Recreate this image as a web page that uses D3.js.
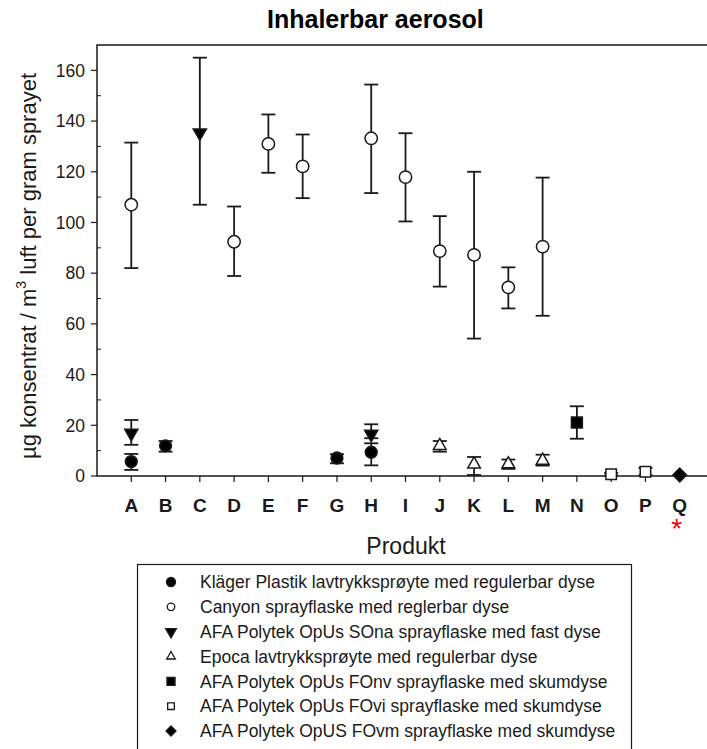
<!DOCTYPE html>
<html>
<head>
<meta charset="utf-8">
<script src="https://cdn.jsdelivr.net/npm/d3@7"></script>
<style>
  body { margin: 0; background: #fff; }
  svg { display: block; font-family: Arial, "Liberation Sans", sans-serif; }
</style>
</head>
<body>
<svg id="chart" width="707" height="749"></svg>
<script>
'use strict';

// products on the x axis
const products = ['A','B','C','D','E','F','G','H','I','J','K','L','M','N','O','P','Q'];
const yTicks = [0, 20, 40, 60, 80, 100, 120, 140, 160];

// each series: product, mean, lower error, upper error
const klagerCats = ['A','B','G','H'];
const klagerVals = [5.7, 11.9, 7.1, 9.4];
const klagerLo = [2.4, 9.6, 5.0, 4.2];
const klagerHi = [8.7, 13.8, 8.6, 12.9];

const canyonCats = ['A','D','E','F','H','I','J','K','L','M'];
const canyonVals = [107, 92.4, 131, 122.1, 133.2, 117.9, 88.7, 87.2, 74.4, 90.5];
const canyonLo = [82, 78.9, 119.6, 109.6, 111.6, 100.4, 74.7, 54.2, 66.1, 63.2];
const canyonHi = [131.5, 106.3, 142.6, 134.7, 154.4, 135.2, 102.5, 120, 82.3, 117.7];

const sonaCats = ['A','C','H'];
const sonaVals = [16.9, 135.4, 16.5];
const sonaLo = [12.3, 107, 14.9];
const sonaHi = [22.1, 165, 20.4];

const epocaCats = ['J','K','L','M'];
const epocaVals = [11.9, 4.6, 4.7, 6.1];
const epocaLo = [9.6, 0.4, 2.8, 4.1];
const epocaHi = [13.8, 7.5, 6.5, 8.4];

const fonvCats = ['N'];
const fonvVals = [21.1];
const fonvLo = [14.7];
const fonvHi = [27.5];

const foviCats = ['O','P'];
const foviVals = [0.7, 1.7];
const foviLo = [0.2, 0.3];
const foviHi = [1.2, 3.2];

const fovmCats = ['Q'];
const fovmVals = [0.4];
const fovmLo = [0.4];
const fovmHi = [0.4];

const legendLabels = [
  'Kläger Plastik lavtrykksprøyte med regulerbar dyse',
  'Canyon sprayflaske med reglerbar dyse',
  'AFA Polytek OpUs SOna sprayflaske med fast dyse',
  'Epoca lavtrykksprøyte med regulerbar dyse',
  'AFA Polytek OpUs FOnv sprayflaske med skumdyse',
  'AFA Polytek OpUs FOvi sprayflaske med skumdyse',
  'AFA Polytek OpUS FOvm sprayflaske med skumdyse'
];

function pack(cats, vals, lo, hi) {
  return cats.map((c, i) => ({cat: c, v: vals[i], lo: lo[i], hi: hi[i]}));
}

const series = [
  {data: pack(klagerCats, klagerVals, klagerLo, klagerHi), type: d3.symbolCircle, size: 110, fill: '#000', rot: 0},
  {data: pack(canyonCats, canyonVals, canyonLo, canyonHi), type: d3.symbolCircle, size: 120, fill: '#fff', rot: 0},
  {data: pack(sonaCats, sonaVals, sonaLo, sonaHi), type: d3.symbolTriangle, size: 75, fill: '#000', rot: 180},
  {data: pack(epocaCats, epocaVals, epocaLo, epocaHi), type: d3.symbolTriangle, size: 70, fill: '#fff', rot: 0},
  {data: pack(fonvCats, fonvVals, fonvLo, fonvHi), type: d3.symbolSquare, size: 120, fill: '#000', rot: 0},
  {data: pack(foviCats, foviVals, foviLo, foviHi), type: d3.symbolSquare, size: 110, fill: '#fff', rot: 0},
  {data: pack(fovmCats, fovmVals, fovmLo, fovmHi), type: d3.symbolSquare, size: 95, fill: '#000', rot: 45}
];

const svg = d3.select('#chart');
const ink = '#1a1a1a';

const plotLeft = 97, plotTop = 45, plotBottom = 476, plotRight = 714;

const x = d3.scalePoint()
  .domain(products)
  .range([plotLeft, plotRight])
  .padding(1);

const y = d3.scaleLinear()
  .domain([0, 170])
  .range([plotBottom, plotTop]);

// title
svg.append('text')
  .attr('x', 267).attr('y', 28)
  .style('font-weight', 'bold')
  .style('font-size', '25px')
  .text('Inhalerbar aerosol');

// frame
svg.append('rect')
  .attr('x', plotLeft).attr('y', plotTop)
  .attr('width', plotRight - plotLeft).attr('height', plotBottom - plotTop)
  .attr('fill', 'none')
  .attr('stroke', ink)
  .attr('stroke-width', 1.5);

// y axis: major ticks out, minor ticks in
const yAxis = svg.append('g');
yAxis.selectAll('line.major')
  .data(yTicks)
  .enter().append('line')
  .attr('class', 'major')
  .attr('x1', plotLeft - 6).attr('x2', plotLeft)
  .attr('y1', d => y(d)).attr('y2', d => y(d))
  .attr('stroke', ink).attr('stroke-width', 1.2);
yAxis.selectAll('line.minor')
  .data(d3.range(10, 170, 20))
  .enter().append('line')
  .attr('class', 'minor')
  .attr('x1', plotLeft).attr('x2', plotLeft + 4)
  .attr('y1', d => y(d)).attr('y2', d => y(d))
  .attr('stroke', ink).attr('stroke-width', 1);
yAxis.selectAll('text')
  .data(yTicks)
  .enter().append('text')
  .attr('x', 85)
  .attr('y', d => y(d))
  .attr('dy', '0.36em')
  .attr('text-anchor', 'end')
  .style('font-size', '17.5px')
  .attr('fill', ink)
  .text(d => d);

// x axis ticks and labels
const xAxis = svg.append('g');
xAxis.selectAll('line')
  .data(products)
  .enter().append('line')
  .attr('x1', d => x(d)).attr('x2', d => x(d))
  .attr('y1', plotBottom).attr('y2', plotBottom + 6)
  .attr('stroke', ink).attr('stroke-width', 1.2);
xAxis.selectAll('text')
  .data(products)
  .enter().append('text')
  .attr('x', d => x(d))
  .attr('y', 512)
  .attr('text-anchor', 'middle')
  .style('font-size', '19px')
  .style('font-weight', 'bold')
  .attr('fill', ink)
  .text(d => d);

// red star under Q
svg.append('text')
  .attr('x', x('Q') - 3).attr('y', 538)
  .attr('text-anchor', 'middle')
  .attr('fill', '#ff0000')
  .style('font-size', '28px')
  .text('*');

// axis titles
svg.append('text')
  .attr('x', 406).attr('y', 554)
  .attr('text-anchor', 'middle')
  .style('font-size', '23px')
  .attr('fill', ink)
  .text('Produkt');

const yLab = svg.append('text')
  .attr('transform', 'translate(36,266) rotate(-90)')
  .attr('text-anchor', 'middle')
  .style('font-size', '22px')
  .attr('fill', ink);
yLab.append('tspan').text('µg konsentrat / m');
yLab.append('tspan').attr('dy', -10).style('font-size', '14px').text('3');
yLab.append('tspan').attr('dy', 10).text(' luft per gram sprayet');

// error bars
const cap = 7;
series.forEach((s) => {
  const g = svg.append('g');
  const bars = g.selectAll('g').data(s.data.filter(d => d.hi > d.lo)).enter().append('g');
  bars.append('line')
    .attr('x1', d => x(d.cat)).attr('x2', d => x(d.cat))
    .attr('y1', d => y(d.lo)).attr('y2', d => y(d.hi))
    .attr('stroke', ink).attr('stroke-width', 1.8);
  bars.append('line')
    .attr('x1', d => x(d.cat) - cap).attr('x2', d => x(d.cat) + cap)
    .attr('y1', d => y(d.lo)).attr('y2', d => y(d.lo))
    .attr('stroke', ink).attr('stroke-width', 1.8);
  bars.append('line')
    .attr('x1', d => x(d.cat) - cap).attr('x2', d => x(d.cat) + cap)
    .attr('y1', d => y(d.hi)).attr('y2', d => y(d.hi))
    .attr('stroke', ink).attr('stroke-width', 1.8);
});

// markers
series.forEach((s) => {
  svg.append('g').selectAll('path')
    .data(s.data)
    .enter().append('path')
    .attr('d', d3.symbol().type(s.type).size(s.size))
    .attr('transform', d => 'translate(' + x(d.cat) + ',' + y(d.v) + ') rotate(' + s.rot + ')')
    .attr('fill', s.fill)
    .attr('stroke', ink)
    .attr('stroke-width', 1.5);
});

// legend
const lg = svg.append('g');
lg.append('rect')
  .attr('x', 137.5).attr('y', 564.5)
  .attr('width', 494).attr('height', 200)
  .attr('fill', '#fff')
  .attr('stroke', ink)
  .attr('stroke-width', 1.2);

const rowY = d3.scaleLinear().domain([0, 6]).range([582, 731]);
const legendSizes = [65, 45, 50, 32, 65, 45, 50];
legendLabels.forEach((label, i) => {
  const s = series[i];
  lg.append('path')
    .attr('d', d3.symbol().type(s.type).size(legendSizes[i]))
    .attr('transform', 'translate(171,' + rowY(i) + ') rotate(' + s.rot + ')')
    .attr('fill', s.fill)
    .attr('stroke', ink)
    .attr('stroke-width', 1.3);
  lg.append('text')
    .attr('x', 200).attr('y', rowY(i))
    .attr('dy', '0.36em')
    .style('font-size', '17.5px')
    .attr('fill', ink)
    .text(label);
});
</script>
</body>
</html>
